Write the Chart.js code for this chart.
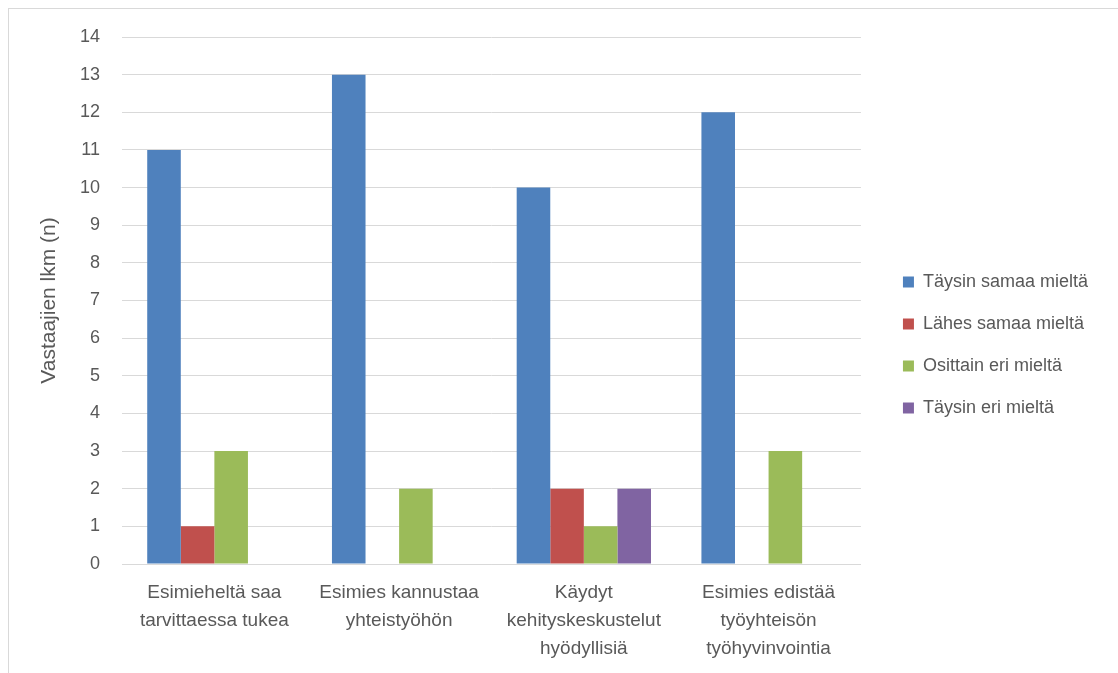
<!DOCTYPE html>
<html>
<head>
<meta charset="utf-8">
<script src="https://cdn.jsdelivr.net/npm/chart.js@4"></script>
<style>
  html, body { margin: 0; padding: 0; background: #fff; overflow: hidden; }
  #wrap { position: relative; width: 1118px; height: 673px; }
  #frame { position: absolute; left: 8px; top: 8px; width: 1200px; height: 800px; border: 1px solid #d9d9d9; }
  #myChart { position: absolute; left: 0; top: 0; }
</style>
</head>
<body>
<div id="wrap">
  <div id="frame"></div>
  <canvas id="myChart" width="1118" height="673"></canvas>
</div>
<script>
// kysymykset (x-akseli)
var kysymykset = [
  ['Esimieheltä saa', 'tarvittaessa tukea'],
  ['Esimies kannustaa', 'yhteistyöhön'],
  ['Käydyt', 'kehityskeskustelut', 'hyödyllisiä'],
  ['Esimies edistää', 'työyhteisön', 'työhyvinvointia']
];
// vastaukset (n)
var taysinSamaa = [11, 13, 10, 12];
var lahesSamaa = [1, 0, 2, 0];
var osittainEri = [3, 2, 1, 3];
var taysinEri = [0, 0, 2, 0];
var yMin = 0, yMax = 14, yStep = 1;

const ctx = document.getElementById('myChart');
const fontFam = '"Liberation Sans", Arial, sans-serif';
const harmaa = '#595959';

// siirretaan selitetta hieman oikealle ja ylos
const legendSiirto = {
  id: 'legendSiirto',
  afterLayout(chart) {
    const lg = chart.legend;
    if (!lg) return;
    lg.left += 18; lg.right += 18;
    lg.top -= 10; lg.bottom -= 10;
  }
};

var config = {
  type: 'bar',
  data: {
    labels: kysymykset,
    datasets: [
      { label: 'Täysin samaa mieltä', data: taysinSamaa, backgroundColor: '#4f81bd' },
      { label: 'Lähes samaa mieltä', data: lahesSamaa, backgroundColor: '#c0504d' },
      { label: 'Osittain eri mieltä', data: osittainEri, backgroundColor: '#9bbb59' },
      { label: 'Täysin eri mieltä', data: taysinEri, backgroundColor: '#8064a2' }
    ]
  },
  options: {
    responsive: false,
    animation: false,
    layout: { padding: { top: 37, right: 38, bottom: 0, left: 0 } },
    datasets: { bar: { barPercentage: 1, categoryPercentage: 0.727 } },
    plugins: {
      legend: {
        position: 'right',
        labels: {
          boxWidth: 11,
          boxHeight: 11,
          padding: 24,
          color: harmaa,
          font: { family: fontFam, size: 18 }
        }
      },
      tooltip: { enabled: false }
    },
    scales: {
      x: {
        grid: { display: false, drawTicks: false },
        border: { color: '#d9d9d9', width: 1 },
        ticks: {
          padding: 15,
          color: harmaa,
          maxRotation: 0,
          autoSkip: false,
          font: { family: fontFam, size: 19, lineHeight: 1.47 }
        },
        afterFit: function (s) { s.height = 109; }
      },
      y: {
        min: yMin,
        max: yMax,
        grid: { color: '#d9d9d9', drawTicks: false },
        border: { display: false },
        ticks: {
          stepSize: yStep,
          padding: 22,
          color: harmaa,
          font: { family: fontFam, size: 18 }
        },
        title: {
          display: true,
          text: 'Vastaajien lkm (n)',
          color: harmaa,
          padding: { top: 37, bottom: 0 },
          font: { family: fontFam, size: 21 }
        },
        afterFit: function (s) { s.width = 122; }
      }
    }
  },
  plugins: [legendSiirto]
};

myChart1 = new Chart(ctx, config);
</script>
</body>
</html>
